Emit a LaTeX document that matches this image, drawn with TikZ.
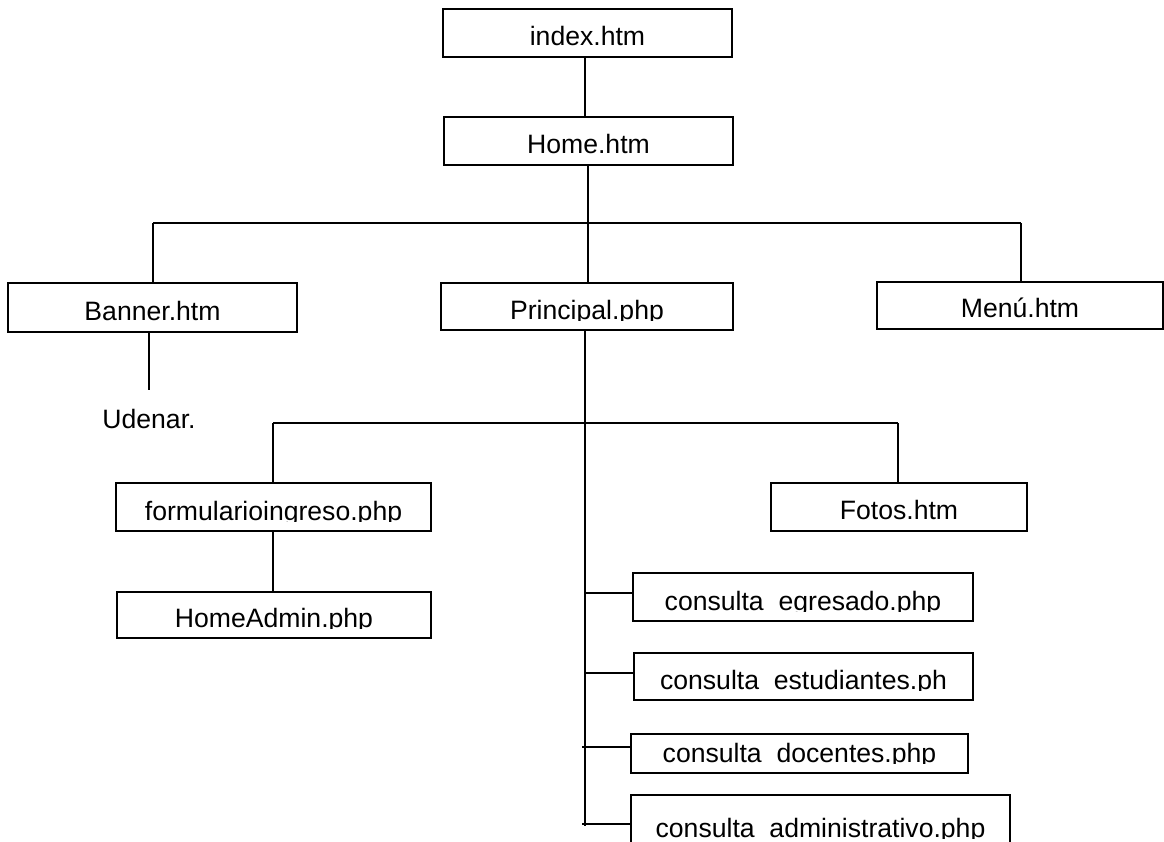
\documentclass[tikz,border=0pt]{standalone}
\usepackage{fontspec}
\setmainfont{Liberation Sans}
\begin{document}
\begin{tikzpicture}[x=0.5pt,y=-0.5pt]
\tikzset{
  conn/.style={line width=1.1pt},
  filebox/.style={draw, line width=1.1pt, rectangle, inner sep=0pt},
  lbl/.style={anchor=base, inner sep=0pt, font=\fontsize{13.3pt}{16pt}\selectfont},
}
\newcommand\filenode[7]{%
  \node[filebox, minimum width={0.5pt*(#4-#2)}, minimum height={0.5pt*(#5-#3)}]
     (#1) at ({(#2+#4)/2},{(#3+#5)/2}) {};
  \begin{scope}
    \clip (#2,#3) rectangle (#4,{#6+1.5});
    \node[lbl] (#1-t) at ({(#2+#4)/2},#6) {#7};
  \end{scope}}
\clip (0,0) rectangle (1164,842);
\fill[white] (0,0) rectangle (1164,842);

\filenode{index}{443}{9}{732}{57}{45}{index.htm}
\filenode{home}{444}{117}{733}{165}{153}{Home.htm}
\filenode{banner}{8}{283}{297}{332}{320}{Banner.htm}
\filenode{principal}{441}{283}{733}{330}{319}{Principal.php}
\filenode{menu}{877}{282}{1163}{329}{317}{Menú.htm}
\filenode{form}{116}{483}{431}{531}{520}{formularioingreso.php}
\filenode{homeadmin}{117}{592}{431}{638}{627}{HomeAdmin.php}
\filenode{fotos}{771}{483}{1027}{531}{519}{Fotos.htm}
\filenode{egresado}{633}{573}{973}{621}{610}{consulta\_egresado.php}
\filenode{estudiantes}{634}{653}{973}{700}{689}{consulta\_estudiantes.ph}
\filenode{docentes}{631}{734}{968}{773}{762}{consulta\_docentes.php}
\filenode{admin}{631}{795}{1010}{860}{837}{consulta\_administrativo.php}

\node[lbl] (udenar) at (149,428) {Udenar.};

% coordinates of the buses
\coordinate (top) at (585,57);
\coordinate (b1) at (588,223);
\coordinate (b1l) at (153,223);
\coordinate (b1r) at (1021,223);
\coordinate (u) at (149,390);
\coordinate (p0) at (585,330);
\coordinate (pend) at (585,826);
\coordinate (b2) at (585,423);
\coordinate (b2l) at (273,423);
\coordinate (b2r) at (898,423);

\draw[conn] (top |- index.south) -- (top |- home.north);
\draw[conn] (b1 |- home.south) -- (b1);
\draw[conn] (b1l) -- (b1r);
\draw[conn] (b1l) -- (b1l |- banner.north);
\draw[conn] (b1) -- (b1 |- principal.north);
\draw[conn] (b1r) -- (b1r |- menu.north);
\draw[conn] (u |- banner.south) -- (u);

\draw[conn] (p0) -- (pend);
\draw[conn] (b2l) -- (b2r);
\draw[conn] (b2l) -- (b2l |- form.north);
\draw[conn] (b2r) -- (b2r |- fotos.north);
\draw[conn] (b2l |- form.south) -- (b2l |- homeadmin.north);

\coordinate (c1) at (585,593);
\coordinate (c2) at (585,673);
\coordinate (c3) at (582,747);
\coordinate (c4) at (582,824);
\draw[conn] (c1) -- (egresado.west |- c1);
\draw[conn] (c2) -- (estudiantes.west |- c2);
\draw[conn] (c3) -- (docentes.west |- c3);
\draw[conn] (c4) -- (admin.west |- c4);
\end{tikzpicture}
\end{document}
